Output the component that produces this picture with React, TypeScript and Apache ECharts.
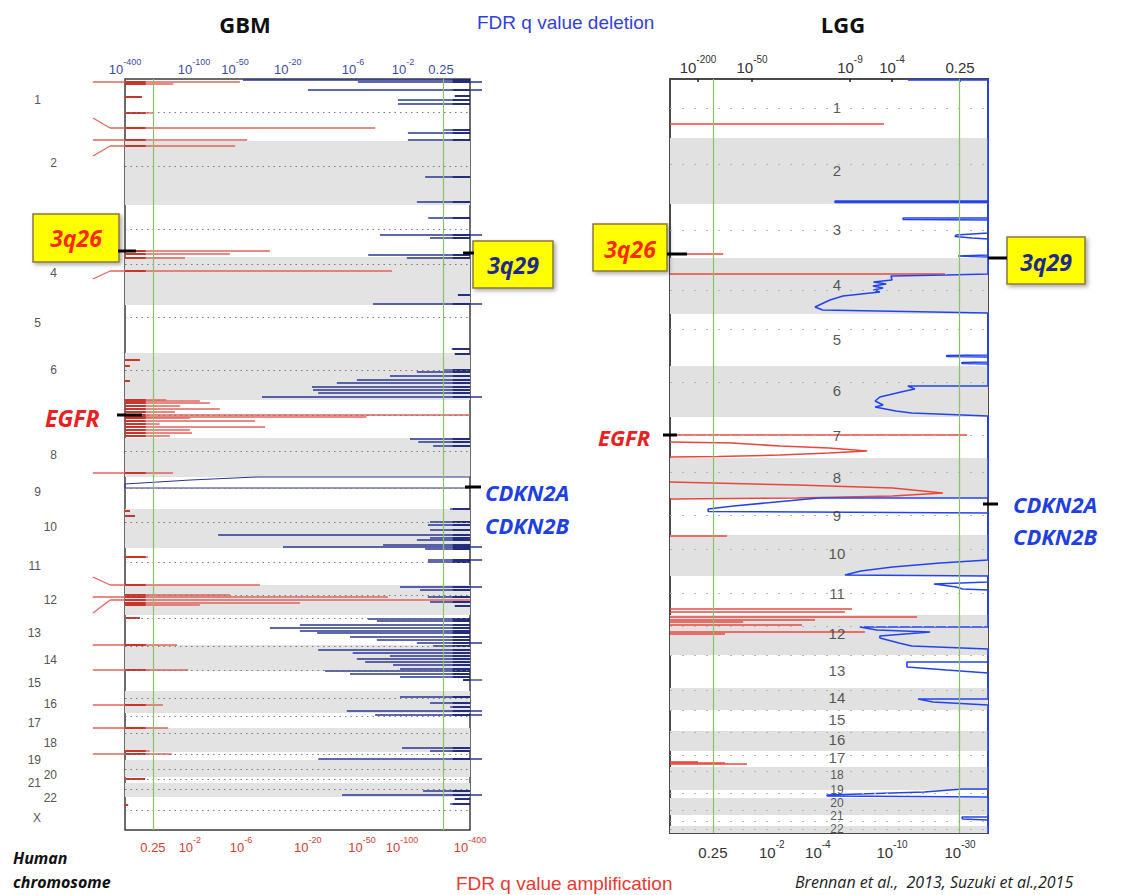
import React, { useEffect, useRef } from 'react';
import * as echarts from 'echarts';

// ---------------- GBM panel data (y = genome position units from chr1 start, x = score position 0..100) ----------------
const gbmChromBounds = [0, 62, 126, 178, 226, 274, 321, 359, 398, 430, 469, 506, 536, 566, 592, 612, 634, 649, 673, 681, 698, 704, 718, 751];
const gbmLabelNames = ['1', '2', '3', '4', '5', '6', '8', '9', '10', '11', '12', '13', '14', '15', '16', '17', '18', '19', '20', '21', '22', 'X'];
const gbmLabelPos = [21, 84, 152, 194, 244, 291, 376, 413, 448, 487, 521, 554, 581, 604, 625, 644, 664, 681, 696, 704, 719, 739];
const gbmCentromeres = [33, 87, 150, 185, 238, 291, 336, 372, 409, 443, 483, 516, 539, 567, 591, 619, 637, 654, 675, 690, 700, 710, 731];
const gbmThresholds = [8.1, 92.2];
const gbmTopTickPos = [0, 20, 31.9, 47.2, 66.1, 80.6, 91.6];
const gbmTopTickLabels = ['10^-400', '10^-100', '10^-50', '10^-20', '10^-6', '10^-2', '0.25'];
const gbmBottomTickPos = [8.1, 18.8, 33.6, 53, 68.7, 80.3, 100];
const gbmBottomTickLabels = ['0.25', '10^-2', '10^-6', '10^-20', '10^-50', '10^-100', '10^-400'];

// amplification segments: [y, xStart, xEnd]
const gbmAmp = [
  [3, -9.3, 33.3], [5, 0, 14], [18, 0, 4.9], [34, 0, 8.1], [49, -4.3, 72.5], [61, -9.3, 35.4], [67, -4.3, 31.9],
  [172, 0, 42], [175, 0, 30.4], [179, 0, 17.4], [192, -4.3, 77.4],
  [281, 0, 4.3], [287, 0, 1.4], [302, 0, 1.4],
  [321, 0, 12], [322, 0, 21.7], [324, 0, 24.6], [327, 0, 16], [330, 0, 27.5], [333, 0, 14.5], [336, 0, 100], [338, 0, 70],
  [339, 0, 18.8], [342, 0, 37.7], [345, 0, 10], [348, 0, 40.6], [351, 0, 18.8], [354, 0, 19.4], [357, 0, 13],
  [394, -9.3, 13.9], [432, 0, 1.4], [437, 0, 2.9], [478, 0, 6.7],
  [506, -4.3, 39.1], [516, 0, 30.4], [518, -9.3, 76.2], [521, -4.3, 100], [524, 0, 50.7], [526, 0, 21.7],
  [539, 0, 4.3], [566, -9.3, 15.1], [591, -9.3, 18.3], [626, -9.3, 11], [649, -9.3, 12.5],
  [672, 0, 7.2], [675, -9.3, 13.6], [700, 0, 5.8], [726, 0, 0.9],
];
// diagonal leaders from the chromosome labels: [yOuter, yInner]
const gbmAmpLeaders = [[39, 49], [77, 67], [200, 192], [498, 506], [534, 521]];

// deletion segments: [y, xStart, xEnd]
const gbmDel = [
  [1, 34.2, 100], [3, 67.5, 103.5], [11, 53, 103.5], [17, 95.6, 100], [21, 79.1, 100], [25, 79.1, 100],
  [51, 92.2, 100], [54, 82, 100], [61, 82, 100], [98, 87, 100], [123, 84.6, 100], [139, 87.9, 100],
  [156, 73.9, 103.5], [159, 88.4, 100], [176, 70.5, 100], [179, 81.7, 100], [216, 96.5, 100], [225, 71.9, 103.5],
  [270, 94.7, 100], [275, 95.6, 100],
  [291, 92.2, 100], [293, 84.6, 100], [297, 76.8, 100], [301, 67.2, 100], [304, 61.4, 100], [308, 54.2, 100],
  [311, 54.5, 100], [314, 56, 100], [318, 39.7, 103.5],
  [360, 82.6, 100], [363, 85, 100], [367, 89.3, 100],
  [430, 94.2, 100], [443, 88.4, 100], [446, 87.8, 100], [451, 88.4, 100], [456, 27, 100], [459, 88.4, 100],
  [461, 84.6, 100], [466, 74.8, 100], [468, 45.8, 103.5], [470, 87, 100],
  [481, 87.8, 103.5], [483, 87.8, 100],
  [508, 79.7, 103.5], [511, 85.5, 100], [518, 87.8, 100], [523, 88.4, 100], [527, 95.6, 100],
  [540, 70.4, 100], [542, 73, 100], [546, 50.7, 100], [549, 42, 100], [552, 50.7, 100], [554, 55.7, 100],
  [558, 65.2, 100], [561, 73, 100], [564, 84.6, 103.5], [567, 89.3, 100],
  [571, 56, 100], [574, 66, 100], [577, 76.8, 100], [580, 67.2, 100], [583, 69.6, 100], [586, 77.7, 100],
  [590, 79.7, 100], [592, 58, 100], [595, 65.2, 100], [598, 79.7, 100], [601, 98, 103.5],
  [618, 79.7, 100], [624, 88.4, 100], [628, 94.2, 100], [632, 64.3, 103.5], [636, 72.5, 103.5],
  [669, 80.3, 100], [672, 88.4, 100], [680, 56, 103.5],
  [712, 86.4, 100], [716, 62.9, 103.5], [720, 95.6, 100], [725, 94.2, 100],
];
// CDKN2A/B deletion profile on chr 9: [x, y]
const gbmDelChr9 = [[100, 398], [38.3, 398], [19, 401], [0, 405], [0, 409], [100, 409]];

// ---------------- LGG panel data ----------------
const lggChromBounds = [0, 59, 125, 179, 235, 287, 338, 379, 419, 456, 497, 536, 576, 609, 631, 652, 672, 688, 711, 719, 736, 747, 754];
const lggLabelNames = ['1', '2', '3', '4', '5', '6', '7', '8', '9', '10', '11', '12', '13', '14', '15', '16', '17', '18', '19', '20', '21', '22'];
const lggLabelPos = [28, 91, 150, 205, 260, 311, 356, 398, 436, 474, 514, 554, 591, 618, 640, 660, 678, 696, 711, 724, 737, 750];
const lggCentromeres = [29, 85, 151, 211, 250, 303, 356, 393, 436, 470, 514, 547, 576, 611, 631, 653, 676, 692, 714, 731, 742, 750];
const lggThresholds = [13.5, 90.9];
const lggTopTickPos = [8.8, 25.8, 56.6, 69.8, 91.2];
const lggTopTickLabels = ['10^-200', '10^-50', '10^-9', '10^-4', '0.25'];
const lggBottomTickPos = [13.5, 32, 46.5, 69.8, 91.2];
const lggBottomTickLabels = ['0.25', '10^-2', '10^-4', '10^-10', '10^-30'];

const lggAmp = [
  [45, 0, 67.3], [175, 0, 16.7], [195, 0, 86.5], [356, 0, 93.4], [457, 0, 17.9],
  [530, 0, 57.2], [533, 0, 55], [538, 0, 77.7], [541, 0, 45.6], [543, 0, 23], [546, 0, 41.5], [553, 0, 61.3], [555, 0, 17.3],
  [683, 0, 8.8], [684, 0, 17.3], [685, 0, 24.2],
];
const lggAmpPeak7 = [[0, 363], [19.5, 364], [34.6, 367], [50, 369], [62, 372], [50, 374], [34.6, 376], [15, 377.5], [0, 378]];
const lggAmpPeak8 = [[0, 403], [40, 406], [70, 409], [85.8, 414], [70, 417], [40, 419], [0, 420]];
const lggDelProfile = [
  [74.8, 1], [100, 1],
  [100, 122], [51.9, 122], [51.9, 123.5], [100, 123.5],
  [100, 139], [73.3, 139], [73.3, 140.5], [100, 141],
  [100, 154], [90, 156], [89.6, 157.5], [95, 159], [100, 160],
  [100, 176], [90.6, 177], [100, 178],
  [100, 195], [87, 196], [69.5, 197], [69.8, 201], [64, 203], [68, 205], [63.8, 207], [67, 209], [64, 211], [66, 213],
  [54.4, 217], [50.3, 221], [45.6, 228], [48, 231], [100, 234],
  [100, 276], [87, 276.5], [87, 277.5], [100, 278],
  [100, 283], [91.8, 283.5], [91.8, 284.5], [100, 285],
  [100, 307], [74.8, 307], [77, 310], [74, 312], [66, 318], [64.5, 322], [67, 326], [64.5, 328], [71, 332], [76, 334], [100, 337],
  [100, 419], [47, 419], [40, 421], [30, 424], [20, 427], [12, 430], [12, 432.5], [100, 434],
  [100, 481], [85, 484], [70, 488], [60, 492], [55, 496], [100, 497],
  [100, 503], [83, 505], [90, 508], [92, 510], [100, 511],
  [100, 548], [59.7, 548], [65, 551], [81.8, 553], [66, 557], [66, 559], [72, 564], [76, 567], [100, 570],
  [100, 583], [74.5, 583], [74.5, 588], [87, 591], [100, 594],
  [100, 620], [78, 620], [82.7, 623], [100, 626],
  [100, 710], [92, 710], [80, 713], [49.4, 716], [49.4, 717], [100, 718],
  [100, 738], [91.8, 738], [92, 740], [100, 741],
  [100, 754],
];

// ---------------- styling ----------------
const AXIS_FONT = '"Liberation Sans", Arial, sans-serif';
const LABEL_FONT = '"Open Sans", "Liberation Sans", sans-serif';
const LEADER_X = [-9.3, -4.3];
const LGG_LABEL_X = 52.5;

function nearestIndex(pos: number[], v: number) {
  let idx = 0;
  let best = Infinity;
  pos.forEach((p, i) => {
    const d = Math.abs(p - v);
    if (d < best) { best = d; idx = i; }
  });
  return idx;
}

function tickFormatter(pos: number[], labels: string[]) {
  return (v: number) => {
    const s = labels[nearestIndex(pos, v)];
    const k = s.indexOf('^');
    if (k < 0) return `{b|${s}}`;
    return `{b|${s.slice(0, k)}}{s|${s.slice(k + 1)}}`;
  };
}

function richTicks(color: string, base: number, sup: number) {
  return {
    b: { fontSize: base, color, fontFamily: AXIS_FONT, lineHeight: base + 6, verticalAlign: 'bottom' },
    s: { fontSize: sup, color, fontFamily: AXIS_FONT, lineHeight: base + 6, verticalAlign: 'top' },
  };
}

function xAxisDef(grid: number, position: string, pos: number[], labels: string[], color: string, base: number, sup: number, margin: number, ticks: boolean) {
  return {
    type: 'value', gridIndex: grid, position, min: 0, max: 100,
    axisLine: { show: false, onZero: false },
    splitLine: { show: false },
    axisTick: { show: ticks, inside: true, length: 3, customValues: pos, lineStyle: { color: '#222', width: 1.5 } },
    axisLabel: { customValues: pos, formatter: tickFormatter(pos, labels), rich: richTicks(color, base, sup), margin },
  };
}

function bandsSeries(xi: number, yi: number, bounds: number[], centro: number[], thresholds: number[], gray: string, dotColor: string, dash: number[]) {
  const areas: any[] = [];
  for (let i = 1; i < bounds.length - 1; i += 2) {
    areas.push([{ yAxis: bounds[i], itemStyle: { color: gray } }, { yAxis: bounds[i + 1] }]);
  }
  const lines: any[] = centro.map((v) => ({ yAxis: v, lineStyle: { type: dash, color: dotColor, width: 1.2 } }));
  thresholds.forEach((v) => lines.push({ xAxis: v, lineStyle: { type: 'solid', color: '#8dbf6c', width: 1.2 } }));
  return {
    type: 'line', xAxisIndex: xi, yAxisIndex: yi, data: [[50, 1]], showSymbol: false, symbol: 'none',
    lineStyle: { opacity: 0 }, z: 1, silent: true,
    markArea: { silent: true, data: areas },
    markLine: { silent: true, symbol: ['none', 'none'], label: { show: false }, data: lines },
  };
}

function segSeries(xi: number, yi: number, data: number[][], color: string, width: number, core?: { color: string; width: number; from: number; to: number }) {
  return {
    type: 'custom', xAxisIndex: xi, yAxisIndex: yi, data, clip: false, z: 3, silent: true,
    encode: { x: [1, 2], y: 0 },
    renderItem: (_p: any, api: any) => {
      const y = api.value(0);
      const xa = api.value(1);
      const xb = api.value(2);
      const p0 = api.coord([xa, y]);
      const p1 = api.coord([xb, y]);
      const children: any[] = [
        { type: 'line', shape: { x1: p0[0], y1: p0[1], x2: p1[0], y2: p1[1] }, style: { stroke: color, lineWidth: width } },
      ];
      if (core) {
        const ca = Math.max(xa, core.from);
        const cb = Math.min(xb, core.to);
        if (cb > ca) {
          const q0 = api.coord([ca, y]);
          const q1 = api.coord([cb, y]);
          children.push({ type: 'line', shape: { x1: q0[0], y1: q0[1], x2: q1[0], y2: q1[1] }, style: { stroke: core.color, lineWidth: core.width } });
        }
      }
      return { type: 'group', children };
    },
  };
}

function leaderSeries(xi: number, yi: number, data: number[][], color: string) {
  return {
    type: 'custom', xAxisIndex: xi, yAxisIndex: yi, data, clip: false, z: 3, silent: true,
    encode: { y: [0, 1] },
    renderItem: (_p: any, api: any) => {
      const p0 = api.coord([LEADER_X[0], api.value(0)]);
      const p1 = api.coord([LEADER_X[1], api.value(1)]);
      return { type: 'line', shape: { x1: p0[0], y1: p0[1], x2: p1[0], y2: p1[1] }, style: { stroke: color, lineWidth: 1.2 } };
    },
  };
}

function profileSeries(xi: number, yi: number, data: number[][], color: string, width: number) {
  return {
    type: 'line', xAxisIndex: xi, yAxisIndex: yi, data, showSymbol: false, symbol: 'none', z: 4, silent: true,
    clip: false, lineStyle: { color, width }, animation: false,
  };
}

function txt(text: string, x: number, y: number, fill: string, font: string, align = 'left') {
  return {
    type: 'text', x, y, z: 101,
    style: { text, fill, font, align, verticalAlign: 'middle', textAlign: align, textVerticalAlign: 'middle' },
  };
}
function box(x: number, y: number, w: number, h: number) {
  return {
    type: 'rect', z: 100, shape: { x, y, width: w, height: h },
    style: { fill: '#ffff00', stroke: '#8a7a3a', lineWidth: 1.5, shadowBlur: 4, shadowOffsetX: 2, shadowOffsetY: 2, shadowColor: 'rgba(0,0,0,0.35)' },
  };
}
function tick(x1: number, y1: number, x2: number, y2: number) {
  return { type: 'line', z: 102, shape: { x1, y1, x2, y2 }, style: { stroke: '#000', lineWidth: 3 } };
}

function buildOption() {
  const gbmRed = '#e2625a';
  const gbmNavy = '#2a3592';
  const lggRed = '#e8473d';
  const lggBlue = '#2443f0';
  const annFont = (size: number) => `italic bold ${size}px ${LABEL_FONT}`;

  // LGG labels: the tightly packed small chromosomes get a slightly smaller size
  const lggLabelData = lggLabelNames.map((n, i) => {
    const prevGap = i > 0 ? lggLabelPos[i] - lggLabelPos[i - 1] : 99;
    const nextGap = i < lggLabelPos.length - 1 ? lggLabelPos[i + 1] - lggLabelPos[i] : 99;
    const tight = Math.min(prevGap, nextGap) < 16;
    return { value: [LGG_LABEL_X, lggLabelPos[i]], name: n, label: { fontSize: tight ? 12 : 15 } };
  });

  return {
    animation: false,
    backgroundColor: '#ffffff',
    grid: [
      { left: 125, top: 79, width: 345, height: 751, show: true, borderColor: '#3c3c3c', borderWidth: 1.5, backgroundColor: 'rgba(0,0,0,0)' },
      { left: 670, top: 79, width: 318, height: 754, show: true, borderColor: '#4a4a4a', borderWidth: 2, backgroundColor: 'rgba(0,0,0,0)' },
    ],
    xAxis: [
      xAxisDef(0, 'top', gbmTopTickPos, gbmTopTickLabels, '#3d4aa6', 13, 9, 3, false),
      xAxisDef(0, 'bottom', gbmBottomTickPos, gbmBottomTickLabels, '#cf3e35', 13, 9, 5, false),
      xAxisDef(1, 'top', lggTopTickPos, lggTopTickLabels, '#333333', 15, 10, 4, true),
      xAxisDef(1, 'bottom', lggBottomTickPos, lggBottomTickLabels, '#333333', 15, 10, 6, true),
    ],
    yAxis: [
      {
        type: 'value', gridIndex: 0, inverse: true, min: 0, max: gbmChromBounds[gbmChromBounds.length - 1],
        axisLine: { show: false, onZero: false }, axisTick: { show: false }, splitLine: { show: false },
        axisLabel: {
          customValues: gbmLabelPos, margin: 68,
          formatter: (v: number) => {
            const n = gbmLabelNames[nearestIndex(gbmLabelPos, v)];
            const odd = n === 'X' || Number(n) % 2 === 1;
            return odd ? `{L|${n}}` : `{R|${n}}`;
          },
          rich: {
            L: { fontSize: 12, color: '#555', fontFamily: AXIS_FONT, padding: [0, 16, 0, 0], lineHeight: 12 },
            R: { fontSize: 12, color: '#555', fontFamily: AXIS_FONT, lineHeight: 12 },
          },
        },
      },
      {
        type: 'value', gridIndex: 1, inverse: true, min: 0, max: lggChromBounds[lggChromBounds.length - 1],
        axisLine: { show: false, onZero: false }, axisTick: { show: false }, splitLine: { show: false }, axisLabel: { show: false },
      },
    ],
    series: [
      bandsSeries(1, 0, gbmChromBounds, gbmCentromeres, gbmThresholds, '#e3e3e3', '#7a7a7a', [1.5, 4]),
      segSeries(1, 0, gbmAmp, gbmRed, 1.3, { color: '#c9352b', width: 2, from: 0, to: 6 }),
      leaderSeries(1, 0, gbmAmpLeaders, gbmRed),
      segSeries(1, 0, gbmDel, gbmNavy, 1.3, { color: '#1d2777', width: 1.8, from: 95, to: 100 }),
      profileSeries(1, 0, gbmDelChr9, gbmNavy, 1.1),

      bandsSeries(3, 1, lggChromBounds, lggCentromeres, lggThresholds, '#e1e1e1', '#b5b5b5', [2, 10]),
      segSeries(3, 1, lggAmp, lggRed, 1.6),
      profileSeries(3, 1, lggAmpPeak7, lggRed, 1.5),
      profileSeries(3, 1, lggAmpPeak8, lggRed, 1.5),
      profileSeries(3, 1, lggDelProfile, lggBlue, 1.6),
      {
        type: 'scatter', xAxisIndex: 3, yAxisIndex: 1, symbolSize: 0, z: 5, silent: true,
        data: lggLabelData,
        label: {
          show: true, position: 'inside', formatter: (p: any) => p.name,
          color: '#2e2e2e', fontSize: 15, lineHeight: 9, fontFamily: AXIS_FONT,
        },
      },
    ],
    graphic: [
      txt('GBM', 245, 24, '#111', `bold 22px ${LABEL_FONT}`, 'center'),
      txt('LGG', 843, 24, '#111', `bold 22px ${LABEL_FONT}`, 'center'),
      txt('FDR q value deletion', 477, 22, '#3341d6', `19px ${AXIS_FONT}`),
      txt('FDR q value amplification', 456, 883, '#e53a33', `19px ${AXIS_FONT}`),
      txt('Human', 13, 858, '#111', `italic bold 16px ${LABEL_FONT}`),
      txt('chromosome', 13, 882, '#111', `italic bold 16px ${LABEL_FONT}`),
      txt('Brennan et al.,  2013, Suzuki et al.,2015', 795, 882, '#222', `italic 16px ${LABEL_FONT}`),

      // GBM annotations
      box(33, 214, 86, 48), txt('3q26', 76, 238, '#ff2a00', annFont(23), 'center'), tick(118, 251, 136, 251),
      box(473, 241, 80, 47), txt('3q29', 513, 265, '#1e2a8a', annFont(23), 'center'), tick(463, 253, 474, 253),
      txt('EGFR', 45, 418, '#e62222', annFont(23)), tick(117, 415, 142, 415),
      txt('CDKN2A', 485, 492, '#1f3fe0', annFont(22)), txt('CDKN2B', 485, 525, '#1f3fe0', annFont(22)), tick(465, 487, 481, 487),

      // LGG annotations
      box(593, 224, 74, 47), txt('3q26', 630, 249, '#ff2a00', annFont(23), 'center'), tick(667, 254, 687, 254),
      box(1007, 237, 78, 47), txt('3q29', 1046, 262, '#1e2a8a', annFont(23), 'center'), tick(988, 258, 1007, 258),
      txt('EGFR', 598, 437, '#e62222', annFont(22)), tick(663, 435, 677, 435),
      txt('CDKN2A', 1013, 504, '#1f3fe0', annFont(22)), txt('CDKN2B', 1013, 536, '#1f3fe0', annFont(22)), tick(983, 504, 998, 504),
    ],
  };
}

export default function App() {
  const ref = useRef<HTMLDivElement>(null);
  useEffect(() => {
    if (!ref.current) return;
    const chart = echarts.init(ref.current, null, { renderer: 'svg' });
    chart.setOption(buildOption() as any);
    return () => chart.dispose();
  }, []);
  return <div ref={ref} style={{ position: 'absolute', left: 0, top: 0, width: 1146, height: 895, background: '#fff' }} />;
}
